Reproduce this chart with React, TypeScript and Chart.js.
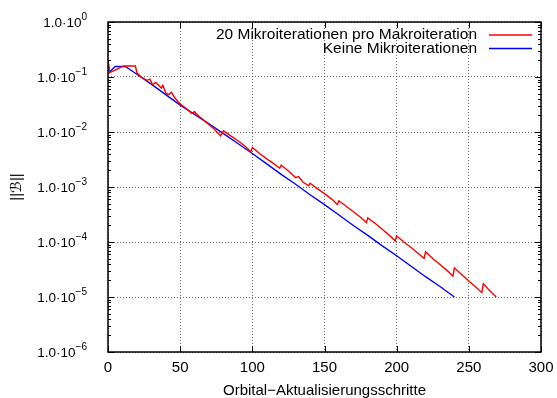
import { useEffect, useRef } from "react";
import { Chart, registerables } from "chart.js";

Chart.register(...registerables);

// Convergence of ||B|| over orbital update steps (log scale)
const microSteps = [
  0, 1, 3, 6, 9, 11, 19, 20, 23, 27, 29, 31, 33, 37, 38, 40, 42, 44, 46, 50,
  55, 58, 60, 62, 67, 73, 78, 80, 85, 90, 95, 99, 100, 105, 110, 115, 119, 120,
  125, 130, 132, 135, 139, 140, 145, 150, 155, 159, 160, 165, 170, 175, 179, 180,
  185, 190, 195, 199, 200, 205, 210, 215, 219, 220, 225, 230, 235, 239, 240, 245,
  250, 255, 259, 260, 265, 269,
];
const microNorm = [
  0.2, 0.12, 0.126, 0.138, 0.151, 0.158, 0.158, 0.12, 0.1, 0.0871, 0.0912, 0.0724,
  0.0794, 0.0631, 0.0708, 0.0513, 0.0479, 0.0525, 0.0427, 0.0324,
  0.0257, 0.0219, 0.0234, 0.0204, 0.0158, 0.0117, 0.00851, 0.0105, 0.00851, 0.00692,
  0.0055, 0.00437, 0.00525, 0.00407, 0.00324, 0.00263, 0.00219, 0.00251,
  0.00195, 0.00148, 0.00155, 0.00123, 0.00105, 0.00117, 0.000933, 0.000759, 0.000603,
  0.000479, 0.000562, 0.000447, 0.000355, 0.000282, 0.000224, 0.000275,
  0.000219, 0.00017, 0.000132, 0.000105, 0.000129, 0.0001, 7.94e-5, 6.17e-5, 5.01e-5,
  6.61e-5, 5.01e-5, 3.89e-5, 3.02e-5, 2.4e-5, 3.39e-5, 2.57e-5,
  1.95e-5, 1.51e-5, 1.2e-5, 1.74e-5, 1.26e-5, 1.0e-5,
];

const plainSteps = [
  0, 1, 3, 5, 12, 20, 30, 40, 50, 60, 70, 80, 90, 100, 110, 120, 130, 140, 150,
  160, 170, 180, 190, 200, 210, 220, 230, 240,
];
const plainNorm = [
  0.2, 0.123, 0.138, 0.155, 0.155, 0.112, 0.0741, 0.0479, 0.0309, 0.0209, 0.0141,
  0.00933, 0.00617, 0.00407, 0.00263, 0.0017, 0.00112, 0.000724, 0.000479,
  0.000309, 0.0002, 0.000132, 8.51e-5, 5.62e-5, 3.63e-5, 2.34e-5, 1.55e-5, 1.0e-5,
];

const seriesNames = ["20 Mikroiterationen pro Makroiteration", "Keine Mikroiterationen"];
const seriesColors = ["#ff0000", "#0000ff"];

const xTickValues = [0, 50, 100, 150, 200, 250, 300];
const yTickValues = [1, 1e-1, 1e-2, 1e-3, 1e-4, 1e-5, 1e-6];
const yTickMantissa = "1.0·10";
const yTickExponents = ["0", "−1", "−2", "−3", "−4", "−5", "−6"];

const xTitle = "Orbital−Aktualisierungsschritte";
const yTitle = "||ℬ||";

const FONT = '"Liberation Sans", "DejaVu Sans", Arial, sans-serif';

const toPoints = (xs: number[], ys: number[]) => xs.map((x, i) => ({ x, y: ys[i] }));

const decorPlugin = {
  id: "decor",
  afterDraw(chart: any) {
    const { ctx, chartArea: a } = chart;
    const xs = chart.scales.x;
    const ys = chart.scales.y;
    ctx.save();

    const seg = (x1: number, y1: number, x2: number, y2: number) => {
      ctx.beginPath();
      ctx.moveTo(x1, y1);
      ctx.lineTo(x2, y2);
      ctx.stroke();
    };

    // inward tick marks
    ctx.strokeStyle = "#000";
    ctx.lineWidth = 1;
    xTickValues.forEach((v) => {
      const px = Math.round(xs.getPixelForValue(v)) + 0.5;
      seg(px, a.bottom, px, a.bottom - 6);
      seg(px, a.top, px, a.top + 6);
    });
    yTickValues.forEach((v) => {
      const py = Math.round(ys.getPixelForValue(v)) + 0.5;
      seg(a.left, py, a.left + 6, py);
      seg(a.right, py, a.right - 6, py);
    });
    for (let i = 1; i < yTickValues.length; i++) {
      const d = yTickValues[i];
      for (let m = 2; m <= 9; m++) {
        const py = Math.round(ys.getPixelForValue(m * d)) + 0.5;
        seg(a.left, py, a.left + 3, py);
        seg(a.right, py, a.right - 3, py);
      }
    }

    // frame
    ctx.lineWidth = 1.5;
    ctx.strokeRect(a.left, a.top, a.right - a.left, a.bottom - a.top);

    ctx.fillStyle = "#000";

    // y tick labels with raised exponent
    yTickValues.forEach((v, i) => {
      const py = ys.getPixelForValue(v);
      const exp = yTickExponents[i];
      ctx.font = `10px ${FONT}`;
      const we = ctx.measureText(exp).width;
      ctx.font = `13.5px ${FONT}`;
      const wm = ctx.measureText(yTickMantissa).width;
      const right = a.left - 21;
      ctx.textAlign = "left";
      ctx.textBaseline = "middle";
      ctx.fillText(yTickMantissa, right - we - wm, py + 1);
      ctx.font = `10px ${FONT}`;
      ctx.fillText(exp, right - we, py - 5);
    });

    // x tick labels
    ctx.font = `15px ${FONT}`;
    ctx.textAlign = "center";
    ctx.textBaseline = "middle";
    xTickValues.forEach((v) => {
      ctx.fillText(String(v), xs.getPixelForValue(v), a.bottom + 16);
    });

    // axis titles
    ctx.fillText(xTitle, (a.left + a.right) / 2, a.bottom + 39);
    ctx.save();
    ctx.translate(17, (a.top + a.bottom) / 2);
    ctx.rotate(-Math.PI / 2);
    ctx.fillText(yTitle, 0, 0);
    ctx.restore();

    // key
    ctx.font = `15.5px ${FONT}`;
    ctx.textAlign = "right";
    seriesNames.forEach((name, i) => {
      const py = a.top + 13 + i * 13.5;
      ctx.fillStyle = "#000";
      ctx.fillText(name, a.right - 64, py);
      ctx.strokeStyle = seriesColors[i];
      ctx.lineWidth = 1.4;
      seg(a.right - 52, py, a.right - 9, py);
    });

    ctx.restore();
  },
};

export default function App() {
  const canvasRef = useRef<HTMLCanvasElement>(null);

  useEffect(() => {
    const canvas = canvasRef.current;
    if (!canvas) return;
    const gridColor = "rgba(70,70,70,0.8)";
    const chart = new Chart(canvas, {
      type: "line",
      data: {
        datasets: [
          {
            label: seriesNames[0],
            data: toPoints(microSteps, microNorm),
            borderColor: seriesColors[0],
            borderWidth: 1.4,
            pointRadius: 0,
            tension: 0,
            fill: false,
          },
          {
            label: seriesNames[1],
            data: toPoints(plainSteps, plainNorm),
            borderColor: seriesColors[1],
            borderWidth: 1.4,
            pointRadius: 0,
            tension: 0,
            fill: false,
          },
        ],
      },
      options: {
        animation: false,
        responsive: false,
        devicePixelRatio: 1,
        layout: { padding: { top: 22, right: 16, left: 0, bottom: 0 } },
        plugins: { legend: { display: false }, tooltip: { enabled: false } },
        scales: {
          x: {
            type: "linear",
            min: 0,
            max: 300,
            afterBuildTicks: (s: any) => {
              s.ticks = xTickValues.map((v) => ({ value: v }));
            },
            afterFit: (s: any) => {
              s.height = 46;
            },
            ticks: { display: false },
            grid: { color: gridColor, lineWidth: 1, drawTicks: false },
            border: { display: false, dash: [1, 2] },
          },
          y: {
            type: "logarithmic",
            min: 1e-6,
            max: 1,
            afterBuildTicks: (s: any) => {
              s.ticks = yTickValues.map((v) => ({ value: v }));
            },
            afterFit: (s: any) => {
              s.width = 108;
            },
            ticks: { display: false },
            grid: { color: gridColor, lineWidth: 1, drawTicks: false },
            border: { display: false, dash: [1, 2] },
          },
        },
      },
      plugins: [decorPlugin],
    });
    return () => chart.destroy();
  }, []);

  return (
    <div style={{ position: "fixed", left: 0, top: 0, width: 557, height: 398, background: "#fff" }}>
      <canvas ref={canvasRef} width={557} height={398} style={{ display: "block" }} />
    </div>
  );
}
